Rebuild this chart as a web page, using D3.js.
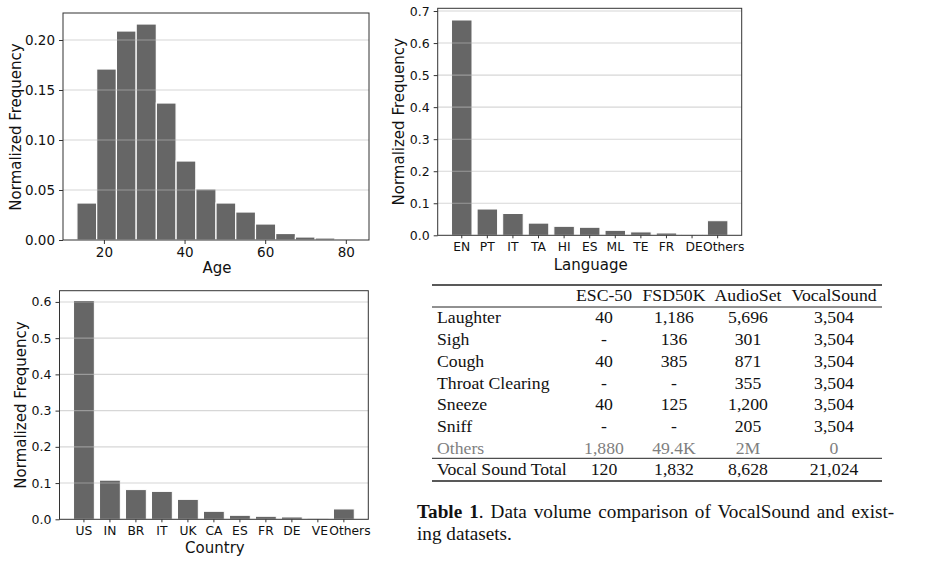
<!DOCTYPE html>
<html>
<head>
<meta charset="utf-8">
<script src="https://cdn.jsdelivr.net/npm/d3@7"></script>
<style>
  body { margin: 0; background: #fff; }
  svg { display: block; }
</style>
</head>
<body>
<svg width="934" height="561"></svg>
<script>
// age histogram
const ageBinEdges = [13.3, 18.2, 23.1, 28.0, 33.0, 37.9, 42.8, 47.8, 52.7, 57.6, 62.6, 67.5, 72.4, 77.3, 82.3];
const ageFreq = [0.037, 0.171, 0.209, 0.216, 0.137, 0.079, 0.051, 0.037, 0.028, 0.016, 0.0065, 0.003, 0.002, 0.0002];
const ageTicks = [20, 40, 60, 80];
const ageYTicks = [0, 0.05, 0.10, 0.15, 0.20];

// language
const languages = ["EN", "PT", "IT", "TA", "HI", "ES", "ML", "TE", "FR", "DE", "Others"];
const languageFreq = [0.672, 0.082, 0.068, 0.038, 0.028, 0.025, 0.0155, 0.0105, 0.0072, 0.003, 0.0455];
const languageYTicks = [0, 0.1, 0.2, 0.3, 0.4, 0.5, 0.6, 0.7];

// country
const countries = ["US", "IN", "BR", "IT", "UK", "CA", "ES", "FR", "DE", "VE", "Others"];
const countryFreq = [0.604, 0.108, 0.082, 0.077, 0.055, 0.022, 0.011, 0.0083, 0.0064, 0.0017, 0.0285];
const countryYTicks = [0, 0.1, 0.2, 0.3, 0.4, 0.5, 0.6];

// table
const tableCols = ["ESC-50", "FSD50K", "AudioSet", "VocalSound"];
const tableRows = ["Laughter", "Sigh", "Cough", "Throat Clearing", "Sneeze", "Sniff", "Others"];
const esc50 = ["40", "-", "40", "-", "40", "-", "1,880"];
const fsd50k = ["1,186", "136", "385", "-", "125", "-", "49.4K"];
const audioSet = ["5,696", "301", "871", "355", "1,200", "205", "2M"];
const vocalSound = ["3,504", "3,504", "3,504", "3,504", "3,504", "3,504", "0"];
const totalLabel = "Vocal Sound Total";
const totals = ["120", "1,832", "8,628", "21,024"];

const svg = d3.select("svg");
const barColor = "#666666";
const sans = "DejaVu Sans, sans-serif";
const serif = "Liberation Serif, Times New Roman, serif";

function frame(g, box, yScale, yTicks, yFmt, tickSize) {
  // grid over the bars
  g.append("g")
    .selectAll("line")
    .data(yTicks.filter(t => t > 0))
    .enter()
    .append("line")
    .attr("x1", box.left).attr("x2", box.right)
    .attr("y1", d => yScale(d)).attr("y2", d => yScale(d))
    .style("stroke", "#bdbdbd")
    .style("stroke-opacity", 0.6)
    .style("stroke-width", 1.1);

  g.append("rect")
    .attr("x", box.left).attr("y", box.top)
    .attr("width", box.right - box.left)
    .attr("height", box.bottom - box.top)
    .style("fill", "none")
    .style("stroke", "#333")
    .style("stroke-width", 1);

  const yAxis = d3.axisLeft(yScale)
    .tickValues(yTicks)
    .tickFormat(d3.format(yFmt))
    .tickSize(4)
    .tickPadding(4);

  const ya = g.append("g")
    .attr("transform", `translate(${box.left},0)`)
    .call(yAxis);
  ya.select(".domain").remove();
  ya.selectAll("line").style("stroke", "#333");
  ya.selectAll("text")
    .style("font-family", sans)
    .style("font-size", tickSize + "px")
    .style("fill", "#111");
}

function yLabel(g, x, y) {
  g.append("text")
    .attr("transform", `translate(${x},${y}) rotate(-90)`)
    .attr("text-anchor", "middle")
    .attr("dy", "0.35em")
    .style("font-family", sans)
    .style("font-size", "15px")
    .style("fill", "#111")
    .text("Normalized Frequency");
}

function xLabel(g, x, y, txt) {
  g.append("text")
    .attr("x", x).attr("y", y)
    .attr("text-anchor", "middle")
    .attr("dy", "0.35em")
    .style("font-family", sans)
    .style("font-size", "15px")
    .style("fill", "#111")
    .text(txt);
}

// ---- Age histogram ----
function ageChart() {
  const box = { left: 63, right: 369, top: 13, bottom: 240 };
  const lo = ageBinEdges[0], hi = ageBinEdges[ageBinEdges.length - 1];
  const pad = (hi - lo) * 0.05;
  const x = d3.scaleLinear().domain([lo - pad, hi + pad]).range([box.left, box.right]);
  const y = d3.scaleLinear().domain([0, 0.227]).range([box.bottom, box.top]);
  const g = svg.append("g");

  g.selectAll("rect.bar")
    .data(ageFreq)
    .enter()
    .append("rect")
    .attr("class", "bar")
    .attr("x", (d, i) => x(ageBinEdges[i]))
    .attr("width", (d, i) => x(ageBinEdges[i + 1]) - x(ageBinEdges[i]))
    .attr("y", d => y(d))
    .attr("height", d => y(0) - y(d))
    .style("fill", barColor)
    .style("stroke", "#fff")
    .style("stroke-width", 1.2);

  frame(g, box, y, ageYTicks, ".2f", 13.5);

  const xa = g.append("g")
    .attr("transform", `translate(0,${box.bottom})`)
    .call(d3.axisBottom(x).tickValues(ageTicks).tickSize(4).tickPadding(3));
  xa.select(".domain").remove();
  xa.selectAll("line").style("stroke", "#333");
  xa.selectAll("text")
    .style("font-family", sans)
    .style("font-size", "13.5px")
    .style("fill", "#111");

  yLabel(g, 16, 127);
  xLabel(g, (box.left + box.right) / 2 + 1, 268, "Age");
}

// ---- categorical bar charts ----
function catChart(cats, vals, yTicks, yMax, box, ylx, xlabY, label) {
  const x = d3.scaleBand().domain(cats).range([box.left, box.right])
    .paddingInner(0.2).paddingOuter(0.54);
  const y = d3.scaleLinear().domain([0, yMax]).range([box.bottom, box.top]);
  const g = svg.append("g");

  g.selectAll("rect.bar")
    .data(vals)
    .enter()
    .append("rect")
    .attr("class", "bar")
    .attr("x", (d, i) => x(cats[i]))
    .attr("width", x.bandwidth())
    .attr("y", d => y(d))
    .attr("height", d => y(0) - y(d))
    .style("fill", barColor)
    .style("stroke", "#fff")
    .style("stroke-width", 1);

  frame(g, box, y, yTicks, ".1f", 12.5);

  const xa = g.append("g")
    .attr("transform", `translate(0,${box.bottom})`)
    .call(d3.axisBottom(x).tickSize(3).tickPadding(4));
  xa.select(".domain").remove();
  xa.selectAll("line").style("stroke", "#333");
  xa.selectAll("text")
    .style("font-family", sans)
    .style("font-size", "12.3px")
    .style("fill", "#111")
    // the last two labels sit a little to the right, as in the source figure
    .attr("dx", (d, i) => i === cats.length - 1 ? 6 : (i === cats.length - 2 ? 2 : 0));

  yLabel(g, ylx, (box.top + box.bottom) / 2);
  xLabel(g, (box.left + box.right) / 2 + 1, xlabY, label);
}

// ---- table ----
function table() {
  const g = svg.append("g");
  const left = 432, right = 882;
  const labelX = 437;
  const colX = [604, 674, 748, 834];
  const headerY = 295;
  const fs = "17.7px";
  const rowY = d3.scaleLinear().domain([0, 7]).range([317.3, 469.3]);

  const rule = (yy, w) => g.append("line")
    .attr("x1", left).attr("x2", right)
    .attr("y1", yy).attr("y2", yy)
    .style("stroke", "#222").style("stroke-width", w);
  rule(285, 1.6);
  rule(307, 1);
  rule(458.3, 1);
  rule(481, 1.6);

  const txt = (xx, yy, s, anchor, color) => g.append("text")
    .attr("x", xx).attr("y", yy)
    .attr("dy", "0.35em")
    .attr("text-anchor", anchor)
    .style("font-family", serif)
    .style("font-size", fs)
    .style("fill", color)
    .text(s);

  tableCols.forEach((c, j) => txt(colX[j], headerY, c, "middle", "#111"));

  const cols = [esc50, fsd50k, audioSet, vocalSound];
  tableRows.forEach((r, i) => {
    const color = r === "Others" ? "#7f7f7f" : "#111";
    txt(labelX, rowY(i), r, "start", color);
    cols.forEach((col, j) => txt(colX[j], rowY(i), col[i], "middle", color));
  });
  txt(labelX, rowY(7), totalLabel, "start", "#111");
  totals.forEach((v, j) => txt(colX[j], rowY(7), v, "middle", "#111"));

  // caption, first line justified to the column width
  const cap = g.append("text")
    .attr("x", 417).attr("y", 511.7)
    .attr("dy", "0.35em")
    .style("font-family", serif)
    .style("font-size", "19.2px")
    .style("word-spacing", "2.2px")
    .style("fill", "#111");
  cap.append("tspan").style("font-weight", "bold").text("Table 1");
  cap.append("tspan").text(".  Data volume comparison of VocalSound and exist-");
  g.append("text")
    .attr("x", 417).attr("y", 533.3)
    .attr("dy", "0.35em")
    .style("font-family", serif)
    .style("font-size", "19.2px")
    .style("fill", "#111")
    .text("ing datasets.");
}

ageChart();
catChart(languages, languageFreq, languageYTicks, 0.7085,
  { left: 437.7, right: 741.7, top: 8.3, bottom: 235.3 }, 398.5, 265, "Language");
catChart(countries, countryFreq, countryYTicks, 0.631,
  { left: 59.5, right: 368.3, top: 290.7, bottom: 519.3 }, 20.7, 547.7, "Country");
table();
</script>
</body>
</html>
